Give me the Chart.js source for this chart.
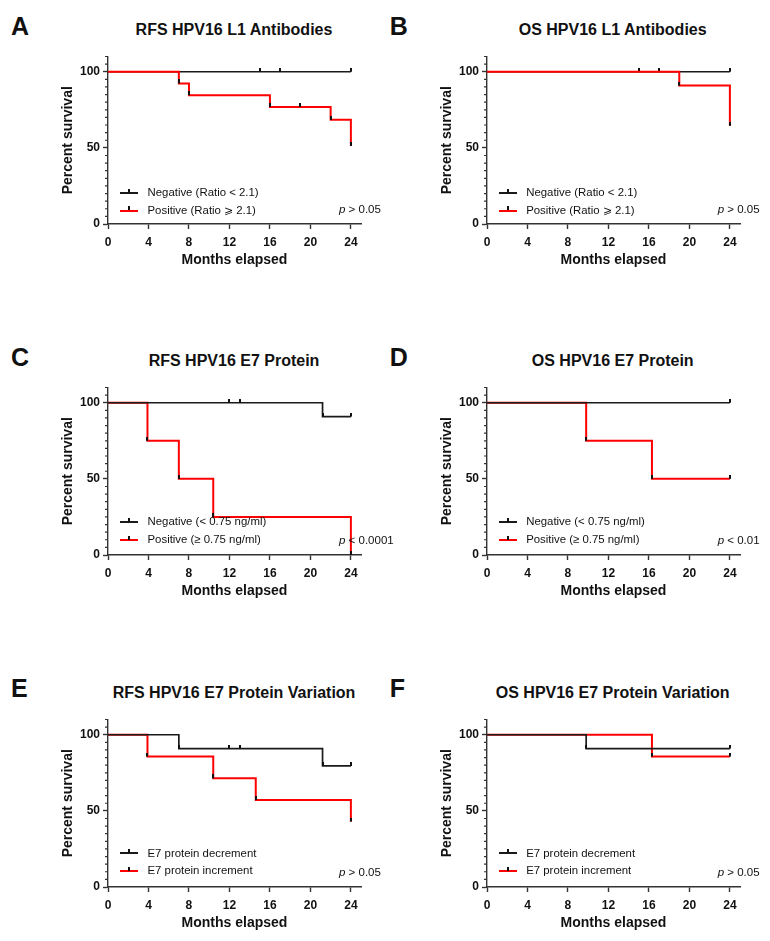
<!DOCTYPE html>
<html><head><meta charset="utf-8">
<script src="https://cdn.jsdelivr.net/npm/chart.js@4.4.1/dist/chart.umd.min.js"></script>
<style>
html,body{margin:0;padding:0;background:#fff;}
body{width:770px;height:941px;position:relative;overflow:hidden;font-family:"Liberation Sans",Arial,sans-serif;color:#111;}
.t{position:absolute;white-space:nowrap;line-height:1;}
canvas{position:absolute;}
.sym{position:absolute;}
</style></head><body>
<script>
// ---- tick labels ----
const xTickValues = [0, 4, 8, 12, 16, 20, 24];
const yTickValues = [0, 50, 100];
const yMinorTickValues = [5, 10, 15, 20, 25, 30, 35, 40, 45, 55, 60, 65, 70, 75, 80, 85, 90, 95, 105, 110];

// ---- Panel A: RFS HPV16 L1 Antibodies ----
const aNegTime = [0, 15, 17, 24];
const aNegSurv = [100, 100, 100, 100];
const aPosTime = [0, 7, 8, 16, 19, 22, 24];
const aPosSurv = [100, 92.3, 84.6, 76.9, 76.9, 68.4, 51.3];

// ---- Panel B: OS HPV16 L1 Antibodies ----
const bNegTime = [0, 15, 17, 24];
const bNegSurv = [100, 100, 100, 100];
const bPosTime = [0, 19, 24];
const bPosSurv = [100, 90.9, 64.5];

// ---- Panel C: RFS HPV16 E7 Protein ----
const cNegTime = [0, 12, 13, 21.2, 24];
const cNegSurv = [100, 100, 100, 90.9, 90.9];
const cPosTime = [0, 3.9, 7, 10.4, 24];
const cPosSurv = [100, 75, 50, 25, 0];

// ---- Panel D: OS HPV16 E7 Protein ----
const dNegTime = [0, 24];
const dNegSurv = [100, 100];
const dPosTime = [0, 9.8, 16.3, 24];
const dPosSurv = [100, 75, 50, 50];

// ---- Panel E: RFS HPV16 E7 Protein Variation ----
const eNegTime = [0, 7, 12, 13, 21.2, 24];
const eNegSurv = [100, 90.9, 90.9, 90.9, 79.5, 79.5];
const ePosTime = [0, 3.9, 10.4, 14.6, 24];
const ePosSurv = [100, 85.7, 71.4, 57.1, 43];

// ---- Panel F: OS HPV16 E7 Protein Variation ----
const fNegTime = [0, 9.8, 24];
const fNegSurv = [100, 90.9, 90.9];
const fPosTime = [0, 16.3, 24];
const fPosSurv = [100, 85.7, 85.7];

const panelLetters = ['A', 'B', 'C', 'D', 'E', 'F'];
const panelTitles = ['RFS HPV16 L1 Antibodies', 'OS HPV16 L1 Antibodies', 'RFS HPV16 E7 Protein', 'OS HPV16 E7 Protein', 'RFS HPV16 E7 Protein Variation', 'OS HPV16 E7 Protein Variation'];
const negLabels = ['Negative (Ratio < 2.1)', 'Negative (Ratio < 2.1)', 'Negative (< 0.75 ng/ml)', 'Negative (< 0.75 ng/ml)', 'E7 protein decrement', 'E7 protein decrement'];
const posLabels = ['Positive (Ratio \u2A7E 2.1)', 'Positive (Ratio \u2A7E 2.1)', 'Positive (\u2265 0.75 ng/ml)', 'Positive (\u2265 0.75 ng/ml)', 'E7 protein increment', 'E7 protein increment'];
const pValues = ['> 0.05', '> 0.05', '< 0.0001', '< 0.01', '> 0.05', '> 0.05'];
const xAxisTitle = 'Months elapsed';
const yAxisTitle = 'Percent survival';

const panels = [
  {negT: aNegTime, negS: aNegSurv, posT: aPosTime, posS: aPosSurv, redTop: true},
  {negT: bNegTime, negS: bNegSurv, posT: bPosTime, posS: bPosSurv, redTop: true},
  {negT: cNegTime, negS: cNegSurv, posT: cPosTime, posS: cPosSurv, redTop: false},
  {negT: dNegTime, negS: dNegSurv, posT: dPosTime, posS: dPosSurv, redTop: false},
  {negT: eNegTime, negS: eNegSurv, posT: ePosTime, posS: ePosSurv, redTop: false},
  {negT: fNegTime, negS: fNegSurv, posT: fPosTime, posS: fPosSurv, redTop: false}
];

// ---- layout ----
const FONT = '"Liberation Sans", Arial, sans-serif';
const colX = [0, 378.7];
const rowY = [0, 331, 662.7];
const legendRow1 = [192.7, 190.7, 190.6];
const legendRow2 = [210.5, 209, 208.2];

const CW = 375, CH = 230;
const AREA_L = 108, AREA_T = 16.5, AREA_R = 361, AREA_B = 184;
const Y_BOX = 48.4, X_BOX = 44.4;

// censor / event symbol: short vertical tick upward from the point
const tickImg = document.createElement('canvas');
tickImg.width = 2; tickImg.height = 8;
(function(){ const c = tickImg.getContext('2d'); c.fillStyle = '#111'; c.fillRect(0, 0, 2, 4); })();

function addText(html, x, cy, fs, o) {
  o = o || {};
  const d = document.createElement('div');
  d.className = 't';
  d.innerHTML = html;
  d.style.fontSize = fs + 'px';
  d.style.fontWeight = o.bold ? 'bold' : 'normal';
  d.style.top = (cy - 0.4885 * fs) + 'px';
  if (o.align === 'center') { d.style.left = x + 'px'; d.style.transform = 'translateX(-50%)'; }
  else d.style.left = x + 'px';
  document.body.appendChild(d);
  return d;
}
function addBox(x, y, w, h, color) {
  const d = document.createElement('div');
  d.className = 'sym';
  d.style.left = x + 'px'; d.style.top = y + 'px';
  d.style.width = w + 'px'; d.style.height = h + 'px';
  d.style.background = color;
  document.body.appendChild(d);
}
function esc(s) { return s.replace(/&/g, '&amp;').replace(/</g, '&lt;').replace(/>/g, '&gt;'); }

const minorTickPlugin = {
  id: 'minorTicks',
  afterDraw(chart) {
    const ys = chart.scales.y, ctx = chart.ctx;
    const x0 = chart.chartArea.left;
    ctx.save();
    ctx.strokeStyle = '#333';
    ctx.lineWidth = 1.2;
    ctx.beginPath();
    yMinorTickValues.forEach(v => {
      const py = ys.getPixelForValue(v);
      ctx.moveTo(x0 - 3, py); ctx.lineTo(x0, py);
    });
    ctx.stroke();
    ctx.restore();
  }
};

function pts(t, s) { return t.map((v, i) => ({x: v, y: s[i]})); }

panels.forEach((p, i) => {
  const ox = colX[i % 2], oy = rowY[Math.floor(i / 2)];
  const r = Math.floor(i / 2);
  // texts
  addText(panelLetters[i], ox + 11, oy + 26, 25, {bold: true});
  addText(esc(panelTitles[i]), ox + 234, oy + 30, 16, {bold: true, align: 'center'});

  const cv = document.createElement('canvas');
  cv.width = CW; cv.height = CH;
  cv.style.left = ox + 'px'; cv.style.top = (oy + 40) + 'px';
  cv.style.width = CW + 'px'; cv.style.height = CH + 'px';
  document.body.appendChild(cv);

  const axisCommon = {
    grid: {drawOnChartArea: false, drawTicks: true, tickLength: 5, tickColor: '#333', tickWidth: 1.4},
    border: {display: true, color: '#333', width: 1.4}
  };

  new Chart(cv, {
    type: 'line',
    data: {
      datasets: [
        {label: negLabels[i], data: pts(p.negT, p.negS), borderColor: '#1a1a1a', borderWidth: 1.7,
         stepped: true, fill: false, tension: 0, order: p.redTop ? 1 : 0,
         pointStyle: tickImg, pointRadius: c => c.dataIndex === 0 ? 0 : 3, pointHoverRadius: 0},
        {label: posLabels[i], data: pts(p.posT, p.posS), borderColor: '#ff0000', borderWidth: 2,
         stepped: true, fill: false, tension: 0, order: p.redTop ? 0 : 1,
         pointStyle: tickImg, pointRadius: c => c.dataIndex === 0 ? 0 : 3, pointHoverRadius: 0}
      ]
    },
    options: {
      responsive: false, animation: false, events: [],
      layout: {padding: {left: AREA_L - Y_BOX, top: AREA_T, right: CW - AREA_R, bottom: CH - AREA_B - X_BOX}},
      plugins: {legend: {display: false}, tooltip: {enabled: false}, title: {display: false}},
      scales: {
        x: Object.assign({}, axisCommon, {
          type: 'linear', min: 0, max: 25,
          afterFit: s => { s.height = X_BOX; },
          afterBuildTicks: s => { s.ticks = xTickValues.map(v => ({value: v})); },
          ticks: {color: '#111', font: {family: FONT, size: 12, weight: 'bold'}, padding: 6, maxRotation: 0, autoSkip: false},
          title: {display: true, text: xAxisTitle, color: '#111', font: {family: FONT, size: 14, weight: 'bold'}, padding: 0}
        }),
        y: Object.assign({}, axisCommon, {
          type: 'linear', min: 0, max: 110,
          afterFit: s => { s.width = Y_BOX; },
          afterBuildTicks: s => { s.ticks = yTickValues.map(v => ({value: v})); },
          ticks: {color: '#111', font: {family: FONT, size: 12, weight: 'bold'}, padding: 3},
          title: {display: true, text: yAxisTitle, color: '#111', font: {family: FONT, size: 14, weight: 'bold'}, padding: 0}
        })
      }
    },
    plugins: [minorTickPlugin]
  });

  // legend (inside plot, bottom-left)
  const rows = [[legendRow1[r], '#1a1a1a', negLabels[i]], [legendRow2[r], '#ff0000', posLabels[i]]];
  rows.forEach(([cy, col, txt]) => {
    addBox(ox + 120, oy + cy - 1, 18, 2, col);
    addBox(ox + 128.3, oy + cy - 4.2, 1.6, 4, '#111');
    addText(esc(txt), ox + 147.5, oy + cy, 11.4);
  });
  addText('<i>p</i> ' + esc(pValues[i]), ox + 339, oy + 210, 11.5);
});
</script></body></html>
